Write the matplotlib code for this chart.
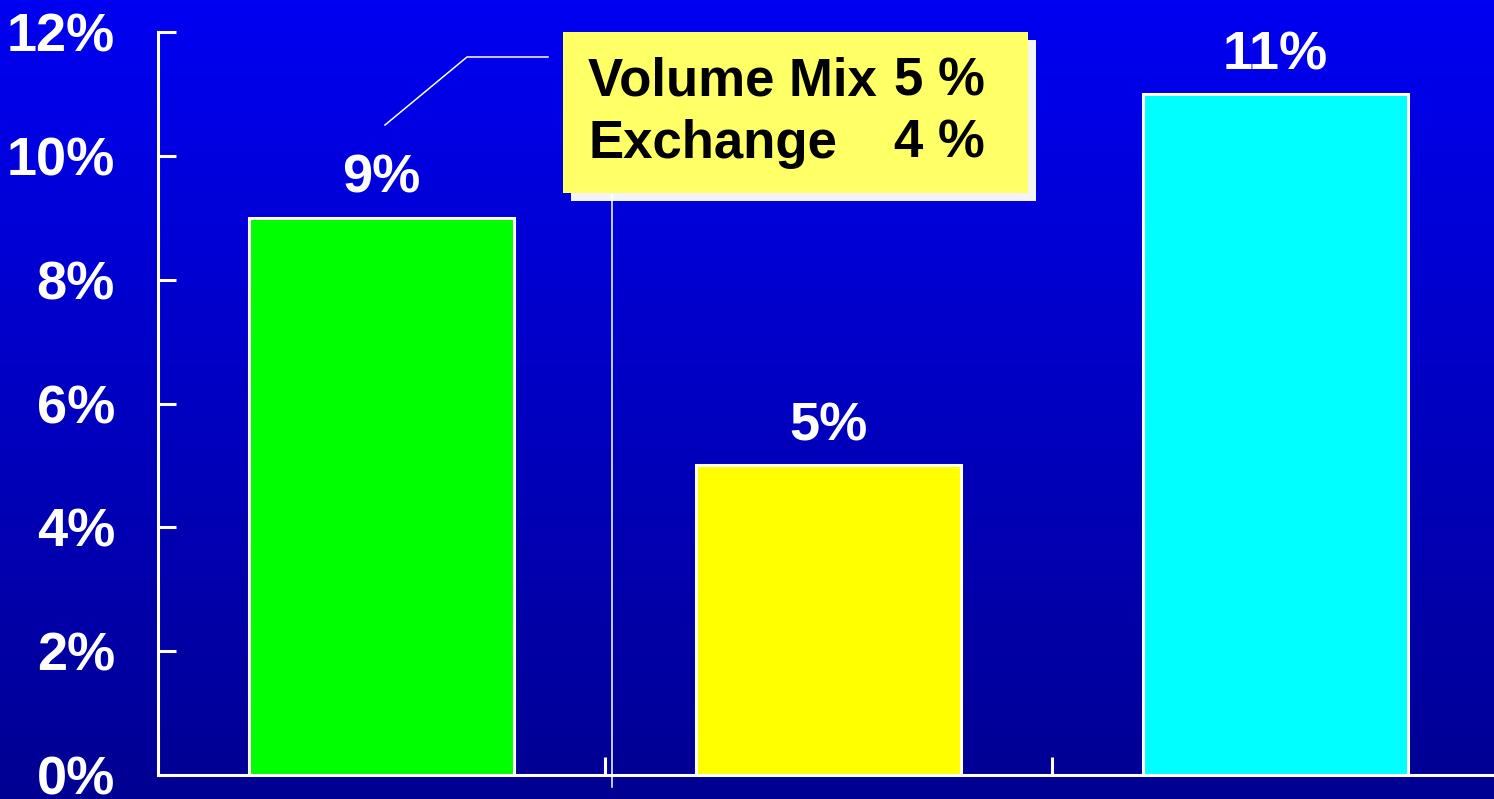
import numpy as np
import matplotlib.pyplot as plt
from matplotlib.colors import LinearSegmentedColormap
from matplotlib.patches import Rectangle
from matplotlib.lines import Line2D

# data
categories = ['A', 'B', 'C']
values = [9, 5, 11]
bar_colors = ['#00FF00', '#FFFF00', '#00FFFF']
y_ticks = [0, 2, 4, 6, 8, 10, 12]
callout_labels = ['Volume Mix', 'Exchange']
callout_values = ['5 %', '4 %']

W, H = 1494, 799
plt.rcParams['font.family'] = ['Liberation Sans', 'DejaVu Sans']
plt.rcParams['font.weight'] = 'bold'

fig = plt.figure(figsize=(W / 100, H / 100), dpi=100)


def fx(x):
    return x / W


def fy(y):
    return 1 - y / H


# gradient background
bg = fig.add_axes([0, 0, 1, 1], zorder=0)
grad = np.linspace(0, 1, 256).reshape(-1, 1)
cmap = LinearSegmentedColormap.from_list('bg', ['#0000F2', '#000092'])
bg.imshow(grad, aspect='auto', cmap=cmap, extent=[0, 1, 0, 1])
bg.axis('off')

ax = fig.add_axes([fx(158), fy(775), fx(1494) - fx(158), (775 - 32) / H], zorder=1)
ax.set_facecolor('none')

x = np.arange(len(categories))
bars = ax.bar(x, values, width=265 / 447, color=bar_colors,
              edgecolor='white', linewidth=2.2, zorder=3)
ax.set_xlim(-0.5, -0.5 + (1494 - 158) / 447)
ax.set_ylim(0, 12)

for s in ['top', 'right']:
    ax.spines[s].set_visible(False)
for s in ['left', 'bottom']:
    ax.spines[s].set_color('white')
    ax.spines[s].set_linewidth(2.2)

ax.set_yticks(y_ticks)
ax.set_yticklabels([f'{t}%' for t in y_ticks])
ax.tick_params(axis='y', direction='in', length=13, width=2.2, colors='white',
               labelsize=39, pad=31)
ax.set_xticks(x[:-1] + 0.5)
ax.set_xticklabels([])
ax.tick_params(axis='x', direction='in', length=13, width=2.2, colors='white')

ax.bar_label(bars, labels=[f'{v}%' for v in values], padding=10,
             color='white', fontsize=39, fontweight='bold')

# callout box
fig.add_artist(Rectangle((fx(571), fy(201)), fx(1036) - fx(571), (201 - 40) / H,
                         transform=fig.transFigure, facecolor='#F4F4F4',
                         edgecolor='none', zorder=5))
fig.add_artist(Rectangle((fx(563), fy(193)), fx(1028) - fx(563), (193 - 32) / H,
                         transform=fig.transFigure, facecolor='#FFFF66',
                         edgecolor='none', zorder=6))
for lab, val, base in zip(callout_labels, callout_values, [95, 158]):
    fig.text(fx(588), fy(base), lab, ha='left', va='baseline', fontsize=38,
             color='black', fontweight='bold', zorder=7)
    fig.text(fx(985), fy(base), val, ha='right', va='baseline', fontsize=38,
             color='black', fontweight='bold', zorder=7)

fig.add_artist(Line2D([fx(385), fx(467), fx(548)], [fy(125), fy(57), fy(57)],
                      transform=fig.transFigure, color='white', lw=1.1, zorder=6))
fig.add_artist(Line2D([fx(612), fx(612)], [fy(195), fy(787)],
                      transform=fig.transFigure, color='white', lw=1.1, zorder=6))

fig.savefig('out.png', dpi=100)
